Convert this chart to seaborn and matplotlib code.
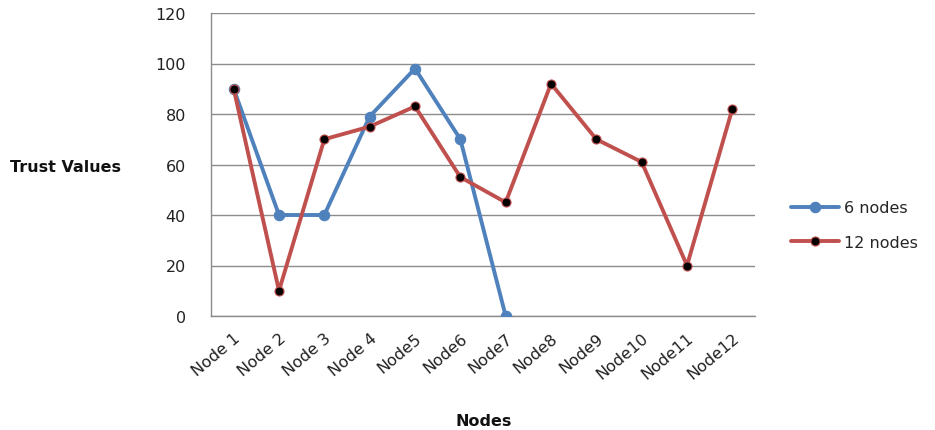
import numpy as np
import pandas as pd
import matplotlib
matplotlib.use("Agg")
import matplotlib.pyplot as plt
import matplotlib.transforms as mtransforms
import seaborn as sns

nodes = ["Node 1", "Node 2", "Node 3", "Node 4", "Node5", "Node6", "Node7",
         "Node8", "Node9", "Node10", "Node11", "Node12"]
six_nodes = [90, 40, 40, 79, 98, 70, 0]
twelve_nodes = [90, 10, 70, 75, 83, 55, 45, 92, 70, 61, 20, 82]
y_ticks = [0, 20, 40, 60, 80, 100, 120]

sns.set_theme(style="white")
plt.rcParams["font.family"] = ["DejaVu Sans"]

df = pd.concat([
    pd.DataFrame({"pos": np.arange(len(six_nodes)), "value": six_nodes, "series": "6 nodes"}),
    pd.DataFrame({"pos": np.arange(len(twelve_nodes)), "value": twelve_nodes, "series": "12 nodes"}),
])

blue = "#4F81BD"
red = "#C0504D"
grid_c = "#8C8C8C"
fs = 11.5

fig = plt.figure(figsize=(9.35, 4.31), dpi=100)
ax = fig.add_axes([211 / 935, 1 - 317 / 431, (755 - 211) / 935, (317 - 14) / 431])

for name, color, mface, msize in [("6 nodes", blue, blue, 7.5), ("12 nodes", red, "black", 6.5)]:
    sub = df[df["series"] == name]
    sns.lineplot(data=sub, x="pos", y="value", ax=ax, color=color, linewidth=2.8,
                 marker="o", markersize=msize, markerfacecolor=mface,
                 markeredgecolor=color, markeredgewidth=0.8, label=name, zorder=3)

ax.set_xlim(-0.5, len(nodes) - 0.5)
ax.set_ylim(0, 120)
ax.set_yticks(y_ticks)
ax.set_yticklabels([str(v) for v in y_ticks], fontsize=fs, color="#222222")
ax.yaxis.grid(True, color=grid_c, linewidth=1.0)
ax.xaxis.grid(False)

ax.set_xticks(np.arange(len(nodes)))
ax.set_xticklabels(nodes, rotation=40, ha="right", rotation_mode="anchor",
                   fontsize=fs, color="#222222")
shift = mtransforms.ScaledTranslation(-6 / 100, 0, fig.dpi_scale_trans)
for lbl in ax.get_xticklabels():
    lbl.set_transform(lbl.get_transform() + shift)
ax.set_xticks(np.arange(len(nodes) + 1) - 0.5, minor=True)
ax.tick_params(axis="x", which="major", length=0, pad=10)
ax.tick_params(axis="x", which="minor", length=5, color=grid_c, width=1, direction="out")
ax.tick_params(axis="y", which="major", length=5, color=grid_c, width=1, direction="out", pad=13)

for side in ["top", "right"]:
    ax.spines[side].set_visible(False)
for side in ["left", "bottom"]:
    ax.spines[side].set_color(grid_c)
    ax.spines[side].set_linewidth(1.0)

ax.set_xlabel("")
ax.set_ylabel("")
fig.text(10 / 935, 1 - 167 / 431, "Trust Values", fontsize=fs, fontweight="bold",
         ha="left", va="center", color="#111111")
fig.text(484 / 935, 1 - 422 / 431, "Nodes", fontsize=fs, fontweight="bold",
         ha="center", va="center", color="#111111")

leg = ax.legend(loc="center left", bbox_to_anchor=(1.04, 0.30), frameon=False,
                fontsize=fs, handlelength=3.0, labelspacing=1.25, handletextpad=0.3)

fig.savefig("out.png", dpi=100, facecolor="white")
